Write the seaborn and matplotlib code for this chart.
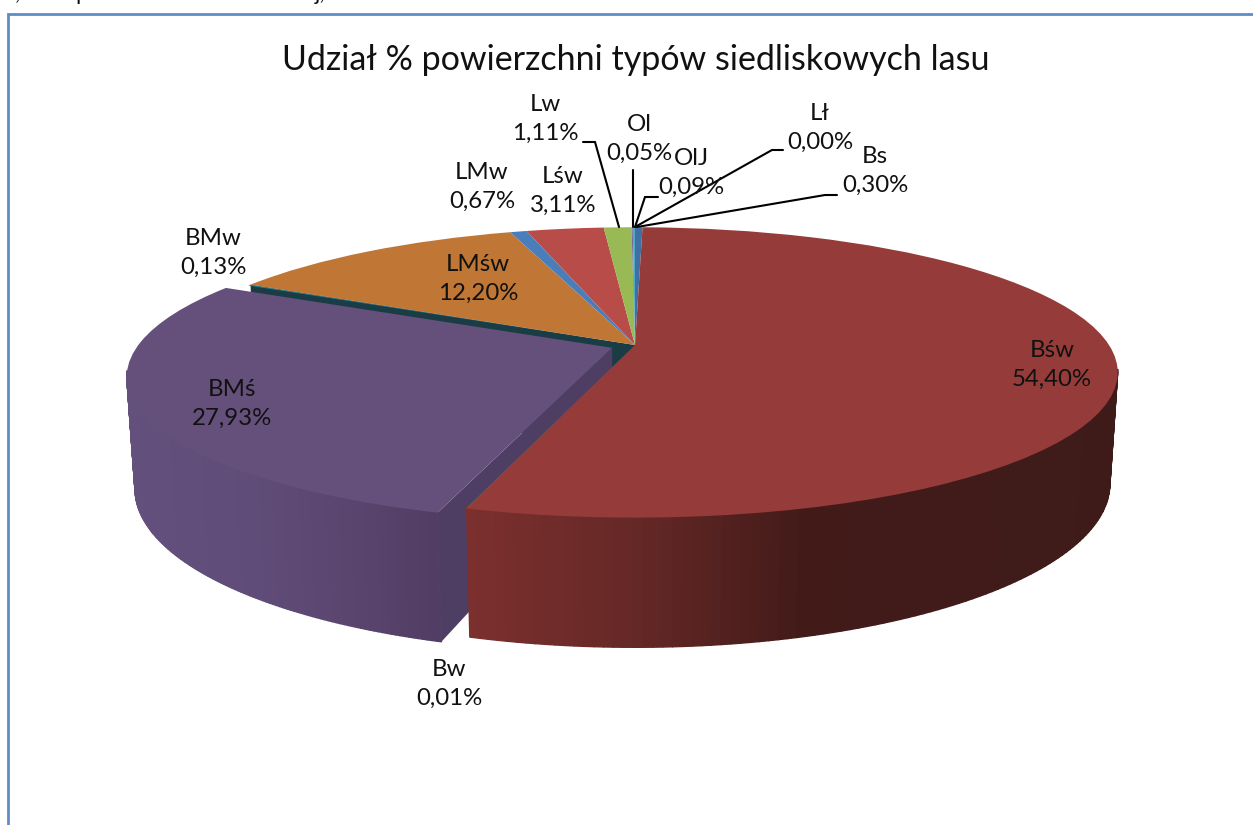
import matplotlib
matplotlib.use("Agg")
import matplotlib.pyplot as plt
import numpy as np
import seaborn as sns
from matplotlib.collections import PolyCollection
from matplotlib.patches import Polygon
from matplotlib.transforms import Transform

# slices, clockwise from 12 o'clock
names = ["Bs", "Bśw", "Bw", "BMś", "BMw", "LMśw", "LMw", "Lśw", "Lw", "Ol", "OlJ", "Lł"]
shares = [0.30, 54.40, 0.01, 27.93, 0.13, 12.20, 0.67, 3.11, 1.11, 0.05, 0.09, 0.00]
explode = [0, 0, 0, 0.052, 0, 0, 0, 0, 0, 0, 0, 0]
colors = ["#3f6fa3", "#953c3a", "#7f9a48", "#65507c", "#2f7f92", "#c07634",
          "#4a7ebb", "#b84c49", "#98b954", "#8064a2", "#4bacc6", "#f79646"]

title = "Udział % powierzchni typów siedliskowych lasu"

# label centres and leader lines, in image pixels
label_pos = {
    "Bśw": (1052, 365), "BMś": (232, 404), "LMśw": (478, 279), "BMw": (213, 253),
    "LMw": (482, 187), "Lśw": (563, 191), "Lw": (545, 119), "Ol": (639, 139),
    "OlJ": (691, 173), "Lł": (820, 128), "Bs": (875, 171), "Bw": (449, 684),
}
leaders = [
    [(583, 142), (595, 142), (619, 227)],
    [(633, 170), (633, 227)],
    [(658, 197), (645, 197), (635, 227)],
    [(783, 150), (772, 150), (635, 227)],
    [(837, 195), (825, 195), (637, 227)],
]

APEX = (635, 345)
RX, RY, TILT = 474, 140, 0.189
DEPTH, DEPTH_W = 110, 0.016


def project(u, v, drop=0.0):
    """Pie plane (unit disc) to image pixels, drop pushes it down to the base"""
    w = 1 + TILT * v + (DEPTH_W if drop else 0)
    return APEX[0] + RX * u / w, APEX[1] + (drop - RY * v) / w


class PieProjection(Transform):
    input_dims = output_dims = 2
    is_separable = False
    has_inverse = False

    def transform_non_affine(self, values):
        values = np.asarray(values, dtype=float)
        return np.column_stack(project(values[:, 0], values[:, 1]))


def shade(stops, x):
    xs, cols = zip(*stops)
    return np.column_stack([np.interp(x, xs, c) for c in zip(*cols)]) / 255


def outer_wall(ax, wedge, stops, zorder):
    t = np.radians(np.linspace(wedge.theta1, wedge.theta2, 200))
    t = t[np.sin(t) < -0.17]  # back part of the rim has no visible wall
    u = wedge.center[0] + np.cos(t)
    v = wedge.center[1] + np.sin(t)
    xt, yt = project(u, v)
    yt = yt - 2  # tuck the wall under the slice top
    xb, yb = project(u, v, DEPTH)
    quads = [[(xt[i], yt[i]), (xt[i + 1], yt[i + 1]), (xb[i + 1], yb[i + 1]), (xb[i], yb[i])]
             for i in range(len(t) - 1)]
    mid = (xb[:-1] + xb[1:]) / 2
    cols = shade(stops, mid)
    ax.add_collection(PolyCollection(quads, facecolors=cols, edgecolors=cols,
                                     linewidths=1.0, zorder=zorder))


def radial_wall(ax, center, angle, color, zorder):
    t = np.radians(angle)
    u = np.array([center[0], center[0] + np.cos(t)])
    v = np.array([center[1], center[1] + np.sin(t)])
    xt, yt = project(u, v)
    xb, yb = project(u, v, DEPTH)
    ax.add_patch(Polygon([(xt[0], yt[0]), (xt[1], yt[1]), (xb[1], yb[1]), (xb[0], yb[0])],
                         closed=True, facecolor=color, edgecolor="none", zorder=zorder))


sns.set_theme(style="white")
plt.rcParams["font.family"] = ["Lato", "DejaVu Sans"]

fig = plt.figure(figsize=(12.53, 8.25), dpi=100, facecolor="white")
ax = fig.add_axes([0, 0, 1, 1])

wedges, _ = ax.pie(shares, colors=colors, explode=explode, startangle=90,
                   counterclock=False, wedgeprops={"linewidth": 0})
projection = PieProjection() + ax.transData
for wedge in wedges:
    wedge.set_transform(projection)
    wedge.set_zorder(5)

ax.set_aspect("auto")
ax.set_xlim(0, 1253)
ax.set_ylim(825, 0)
ax.axis("off")

red = wedges[names.index("Bśw")]
purple = wedges[names.index("BMś")]
teal = wedges[names.index("BMw")]

# dark face seen through the gap left by the pulled out slice
radial_wall(ax, teal.center, teal.theta1, "#1a3c45", 1)
radial_wall(ax, purple.center, purple.theta2, "#4f3e63", 2)
outer_wall(ax, purple, [(130, (100, 80, 124)), (260, (96, 76, 120)), (440, (82, 62, 100))], 3)
outer_wall(ax, red, [(465, (124, 48, 46)), (640, (100, 40, 38)), (800, (66, 27, 25)),
                     (1118, (62, 27, 25))], 4)

for name, share in zip(names, shares):
    x, y = label_pos[name]
    ax.text(x, y, f"{name}\n{share:.2f}%".replace(".", ","), ha="center", va="center",
            fontsize=17.3, color="#111111", linespacing=1.44, zorder=8)

for line in leaders:
    xs, ys = zip(*line)
    ax.plot(xs, ys, color="black", lw=1.5, solid_joinstyle="miter", zorder=7)

ax.text(636, 60, title, ha="center", va="center", fontsize=24.5, color="#111111", zorder=8)

# chart frame, runs off the right and bottom of the crop
ax.plot([8, 8, 1253], [825, 14, 14], color="#5f8cc4", lw=2.0, solid_joinstyle="miter", zorder=9)

# bottoms of the line of text above the crop
for x, s in [(17, ","), (82, "p"), (320, "j,")]:
    ax.text(x, -6, s, ha="center", va="center", fontsize=16, color="#111111", clip_on=True)

fig.savefig("out.png", dpi=100)
